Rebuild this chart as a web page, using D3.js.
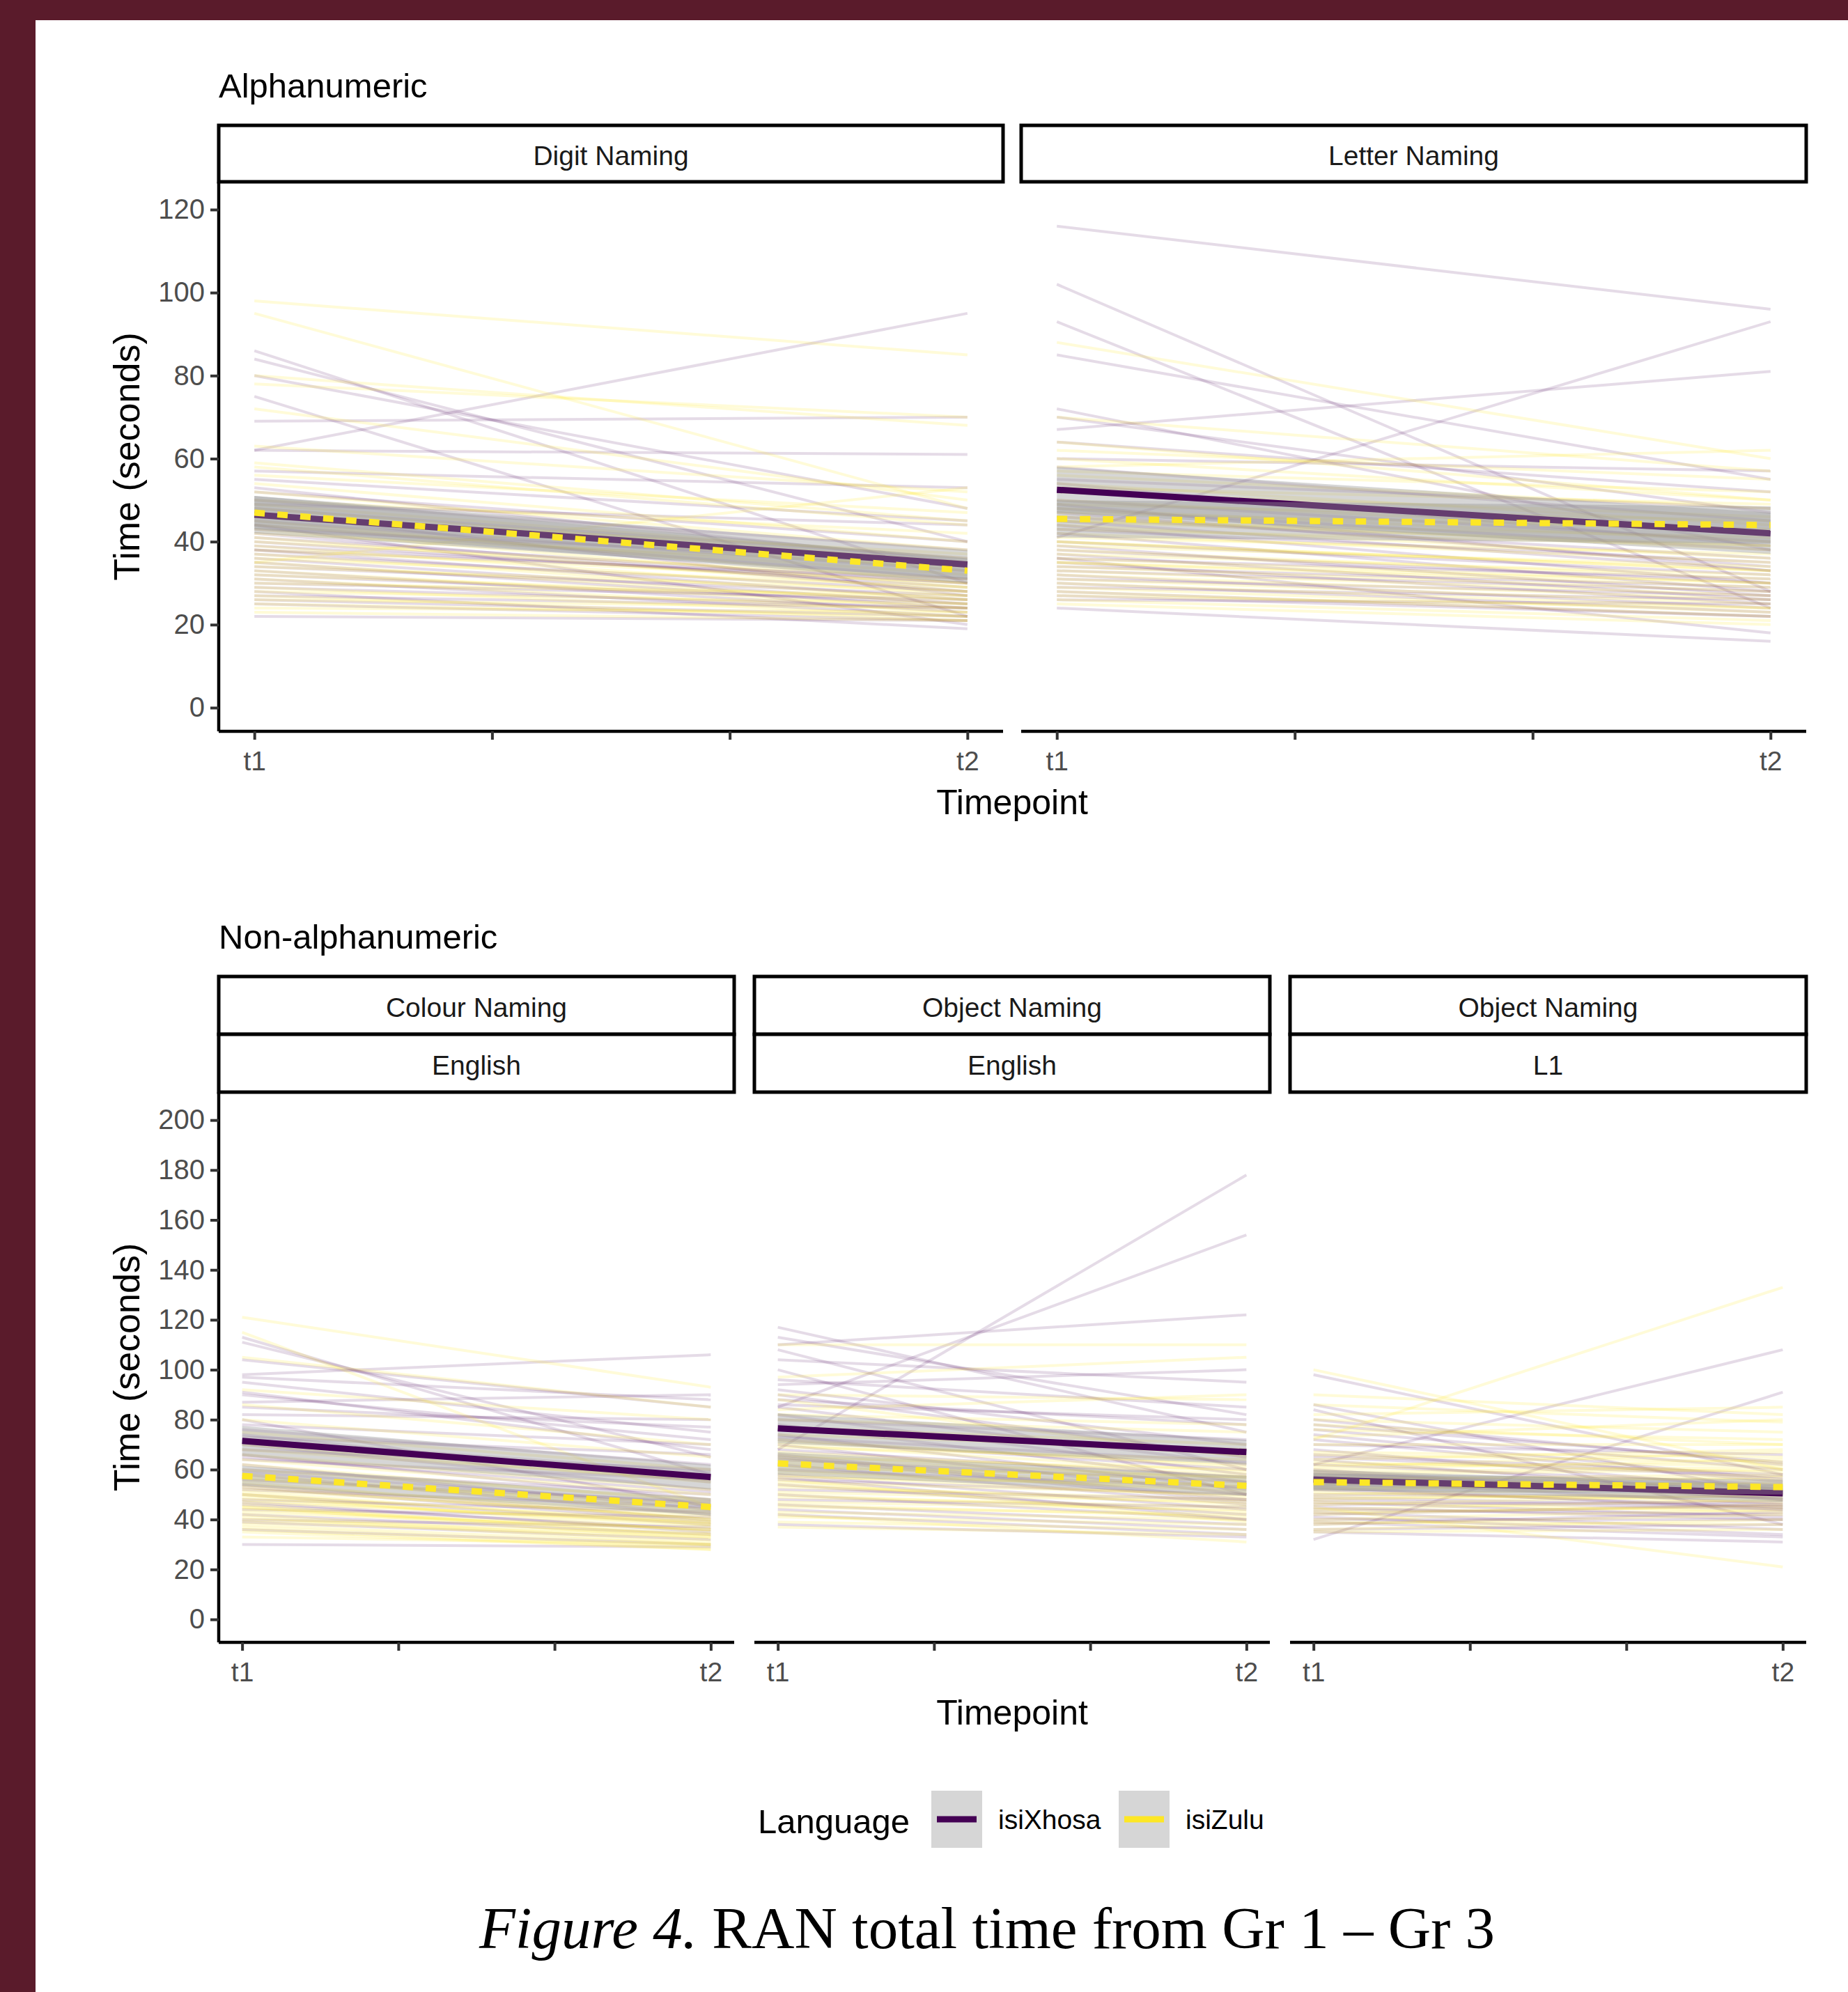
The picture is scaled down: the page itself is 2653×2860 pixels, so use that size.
<!DOCTYPE html>
<html>
<head>
<meta charset="utf-8">
<script src="https://cdn.jsdelivr.net/npm/d3@7"></script>
<style>
  body { margin: 0; background: #fff; }
  text { font-family: "Liberation Sans", Arial, sans-serif; }
</style>
</head>
<body>
<div id="chart"></div>
<script>
// RAN total time, t1 -> t2, by language

// individual children: [t1, t2] seconds
var digitXhosa = [[62,95],[86,30],[84,40],[80,48],[75,22],[69,70],[62,61],[57,53],[55,45],[52,40],[50,38],[48,36],[47,27],[46,34],[45,33],[44,31],[43,35],[42,28],[41,30],[40,29],[39,30],[38,26],[37,28],[36,25],[35,24],[34,27],[33,23],[32,25],[31,22],[30,26],[29,24],[28,19],[27,24],[26,22],[25,21],[22,21],[49,44],[53,35],[44,20],[38,31]];
var digitZulu = [[98,85],[95,48],[80,68],[78,70],[72,50],[63,52],[59,45],[58,44],[56,47],[54,40],[52,38],[50,42],[49,36],[48,35],[47,33],[46,37],[45,30],[44,32],[43,29],[42,34],[41,28],[40,31],[39,27],[38,30],[37,26],[36,29],[35,25],[34,28],[33,24],[32,26],[31,23],[30,27],[29,22],[28,25],[27,21],[26,24],[25,22],[24,23],[23,21],[35,53]];

var letterXhosa = [[116,96],[102,28],[93,24],[85,55],[67,81],[72,38],[41,93],[24,16],[28,22],[33,28],[60,57],[58,45],[55,48],[52,42],[50,40],[48,38],[47,34],[46,36],[45,33],[44,30],[43,35],[42,28],[40,32],[39,27],[38,30],[37,26],[36,31],[35,25],[34,29],[32,24],[31,27],[30,23],[29,26],[27,22],[26,25],[64,52],[70,47],[54,39],[49,33],[36,18]];
var letterZulu = [[88,60],[70,57],[64,50],[58,62],[60,50],[56,48],[54,44],[52,46],[50,42],[49,45],[48,40],[47,43],[46,38],[45,41],[44,36],[43,39],[42,35],[41,37],[40,33],[39,34],[38,31],[37,32],[36,30],[35,29],[34,28],[33,27],[32,26],[31,25],[30,24],[29,23],[28,22],[27,24],[26,21],[25,20],[62,55],[57,52],[53,49],[45,39],[40,33],[35,30]];

var colourXhosa = [[113,58],[111,65],[98,106],[97,88],[95,75],[91,68],[87,90],[82,80],[80,45],[78,70],[76,62],[74,55],[72,59],[70,52],[68,60],[66,48],[64,56],[62,44],[60,50],[58,42],[56,47],[54,40],[52,45],[50,38],[48,43],[46,36],[44,41],[42,34],[40,37],[30,29],[85,77],[73,66],[65,51],[59,46],[53,39],[47,35],[39,32],[36,30],[104,85],[90,72]];
var colourZulu = [[121,93],[115,45],[105,85],[64,50],[55,40],[50,35],[48,38],[46,33],[44,36],[42,31],[40,34],[38,30],[37,29],[60,48],[58,44],[56,46],[54,42],[52,41],[49,37],[47,39],[45,32],[43,36],[41,30],[39,33],[36,28],[66,52],[70,55],[62,47],[57,43],[53,40],[51,38],[35,28],[33,30],[68,56],[75,60],[86,70],[92,80],[80,65],[45,34],[50,39]];

var objEngXhosa = [[68,178],[85,154],[110,122],[117,75],[113,82],[108,60],[104,95],[100,50],[96,85],[92,70],[90,65],[88,78],[85,62],[82,58],[80,72],[78,55],[76,68],[74,52],[72,60],[70,50],[68,57],[66,48],[64,55],[62,46],[60,53],[58,44],[56,50],[54,42],[52,48],[50,40],[48,45],[46,38],[44,36],[42,34],[38,33],[94,100],[86,80],[73,63],[65,47],[57,40]];
var objEngZulu = [[110,110],[97,105],[88,65],[84,90],[80,75],[77,70],[74,68],[71,62],[69,64],[67,58],[65,60],[63,55],[61,57],[59,52],[57,54],[55,50],[53,48],[51,47],[49,45],[47,44],[45,42],[43,40],[41,38],[39,36],[37,34],[90,88],[82,78],[76,66],[72,61],[66,56],[62,53],[58,49],[54,46],[50,43],[46,41],[42,31],[60,51],[70,59],[64,57],[56,39]];

var objL1Xhosa = [[98,58],[86,50],[84,38],[32,91],[62,108],[80,62],[76,60],[72,55],[70,66],[68,52],[66,58],[64,50],[62,54],[60,48],[58,53],[56,46],[54,51],[52,45],[50,49],[48,44],[46,47],[44,42],[42,46],[40,40],[38,43],[36,38],[35,31],[74,56],[78,63],[59,48],[53,44],[47,41],[43,36],[39,33],[55,50],[65,57],[57,52],[49,45],[45,40],[41,34]];
var objL1Zulu = [[72,133],[100,60],[45,21],[90,82],[86,79],[80,75],[76,72],[73,80],[70,70],[67,65],[64,68],[62,62],[60,64],[58,60],[56,58],[54,57],[52,55],[50,53],[48,51],[46,50],[44,48],[42,46],[40,44],[38,42],[36,40],[35,36],[66,63],[61,67],[57,56],[53,52],[49,49],[43,45],[39,38],[78,70],[82,85],[55,54],[47,43],[59,61],[63,59],[51,47]];

// group means [t1, t2] and half width of the ribbon [t1, t2]
var digitMeanXhosa = [46.5, 34.5], digitCiXhosa = [4.5, 3.5];
var digitMeanZulu = [47, 33], digitCiZulu = [4, 3];
var letterMeanXhosa = [52.5, 42], letterCiXhosa = [5.5, 5];
var letterMeanZulu = [45.5, 44], letterCiZulu = [4.5, 4.5];
var colourMeanXhosa = [71.5, 57], colourCiXhosa = [6, 5];
var colourMeanZulu = [57.5, 45], colourCiZulu = [4, 3.5];
var objEngMeanXhosa = [76.5, 67], objEngCiXhosa = [6, 5];
var objEngMeanZulu = [62.5, 53.5], objEngCiZulu = [4.5, 4];
var objL1MeanXhosa = [56, 50.5], objL1CiXhosa = [4, 3.5];
var objL1MeanZulu = [55, 53], objL1CiZulu = [3.5, 3];

var timepoints = [1, 2];
var xTicks = [1, 4 / 3, 5 / 3, 2];
var xTickLabels = ["t1", "", "", "t2"];
var yTicksTop = [0, 20, 40, 60, 80, 100, 120];
var yTicksBottom = [0, 20, 40, 60, 80, 100, 120, 140, 160, 180, 200];
var languages = ["isiXhosa", "isiZulu"];

var colXhosa = "#440154";
var colZulu = "#FDE725";

var svgWidth = 2653;
var svgHeight = 2860;

var svg = d3.select("#chart")
  .append("svg")
  .attr("width", svgWidth)
  .attr("height", svgHeight);

// page frame
svg.append("rect").attr("x", 0).attr("y", 0).attr("width", svgWidth).attr("height", 29).attr("fill", "#5a1b2b");
svg.append("rect").attr("x", 0).attr("y", 0).attr("width", 51).attr("height", svgHeight).attr("fill", "#5a1b2b");

var panels = [
  { strips: ["Digit Naming"], x0: 314, x1: 1440, y0: 261, y1: 1050, stripTop: 180, yDomain: [-5.7, 126.7], yTicks: yTicksTop, first: true,
    xh: digitXhosa, zu: digitZulu, mx: digitMeanXhosa, cx: digitCiXhosa, mz: digitMeanZulu, cz: digitCiZulu },
  { strips: ["Letter Naming"], x0: 1466, x1: 2593, y0: 261, y1: 1050, stripTop: 180, yDomain: [-5.7, 126.7], yTicks: yTicksTop, first: false,
    xh: letterXhosa, zu: letterZulu, mx: letterMeanXhosa, cx: letterCiXhosa, mz: letterMeanZulu, cz: letterCiZulu },
  { strips: ["Colour Naming", "English"], x0: 314, x1: 1054, y0: 1568, y1: 2358, stripTop: 1402, yDomain: [-9.2, 211.2], yTicks: yTicksBottom, first: true,
    xh: colourXhosa, zu: colourZulu, mx: colourMeanXhosa, cx: colourCiXhosa, mz: colourMeanZulu, cz: colourCiZulu },
  { strips: ["Object Naming", "English"], x0: 1083, x1: 1823, y0: 1568, y1: 2358, stripTop: 1402, yDomain: [-9.2, 211.2], yTicks: yTicksBottom, first: false,
    xh: objEngXhosa, zu: objEngZulu, mx: objEngMeanXhosa, cx: objEngCiXhosa, mz: objEngMeanZulu, cz: objEngCiZulu },
  { strips: ["Object Naming", "L1"], x0: 1852, x1: 2593, y0: 1568, y1: 2358, stripTop: 1402, yDomain: [-9.2, 211.2], yTicks: yTicksBottom, first: false,
    xh: objL1Xhosa, zu: objL1Zulu, mx: objL1MeanXhosa, cx: objL1CiXhosa, mz: objL1MeanZulu, cz: objL1CiZulu }
];

panels.forEach(function(p) {
  var g = svg.append("g");
  var x = d3.scaleLinear().domain([0.95, 2.05]).range([p.x0, p.x1]);
  var y = d3.scaleLinear().domain(p.yDomain).range([p.y1, p.y0]);
  var line = d3.line().x(function(d, i) { return x(timepoints[i]); }).y(function(d) { return y(d); });
  var area = d3.area()
    .x(function(d) { return x(d.t); })
    .y0(function(d) { return y(d.m - d.c); })
    .y1(function(d) { return y(d.m + d.c); });

  // children
  g.selectAll(".kidX").data(p.xh).enter().append("path")
    .attr("d", function(d) { return line(d); })
    .attr("fill", "none").attr("stroke", colXhosa).attr("stroke-opacity", 0.14).attr("stroke-width", 4);
  g.selectAll(".kidZ").data(p.zu).enter().append("path")
    .attr("d", function(d) { return line(d); })
    .attr("fill", "none").attr("stroke", colZulu).attr("stroke-opacity", 0.18).attr("stroke-width", 4);

  // smooth + ribbon, isiXhosa then isiZulu
  [[p.mx, p.cx, colXhosa, null], [p.mz, p.cz, colZulu, "15,18"]].forEach(function(s) {
    var band = timepoints.map(function(t, i) { return { t: t, m: s[0][i], c: s[1][i] }; });
    g.append("path").attr("d", area(band)).attr("fill", "#999999").attr("fill-opacity", 0.4);
    var ml = g.append("path").attr("d", line(s[0]))
      .attr("fill", "none").attr("stroke", s[2]).attr("stroke-width", 9);
    if (s[3]) ml.attr("stroke-dasharray", s[3]);
  });

  // strips
  p.strips.forEach(function(label, i) {
    var h = p.strips.length == 1 ? (p.y0 - p.stripTop) : (p.y0 - p.stripTop) / 2;
    var top = p.stripTop + i * h;
    svg.append("rect").attr("x", p.x0).attr("y", top).attr("width", p.x1 - p.x0).attr("height", h)
      .attr("fill", "white").attr("stroke", "black").attr("stroke-width", 5);
    svg.append("text").attr("x", (p.x0 + p.x1) / 2).attr("y", top + h / 2 + 16)
      .attr("text-anchor", "middle").attr("font-size", "39px").attr("fill", "#1a1a1a").text(label);
  });

  // x axis
  var xAxis = d3.axisBottom(x).tickValues(xTicks).tickFormat(function(d, i) { return xTickLabels[i]; })
    .tickSize(12).tickPadding(16).tickSizeOuter(0);
  var gx = svg.append("g").attr("transform", "translate(0," + p.y1 + ")").call(xAxis);
  gx.select(".domain").attr("stroke", "black").attr("stroke-width", 4.5).attr("d", "M" + p.x0 + ",0H" + p.x1);
  gx.selectAll(".tick line").attr("stroke", "#333").attr("stroke-width", 4);
  gx.selectAll(".tick text").attr("font-size", "39px").attr("fill", "#4d4d4d").attr("font-family", "Liberation Sans, Arial, sans-serif");

  // y axis on first panel of a row
  if (p.first) {
    var yAxis = d3.axisLeft(y).tickValues(p.yTicks).tickSize(12).tickPadding(8).tickSizeOuter(0);
    var gy = svg.append("g").attr("transform", "translate(" + p.x0 + ",0)").call(yAxis);
    gy.select(".domain").attr("stroke", "black").attr("stroke-width", 4.5).attr("d", "M0," + p.y0 + "V" + p.y1);
    gy.selectAll(".tick line").attr("stroke", "#333").attr("stroke-width", 4);
    gy.selectAll(".tick text").attr("font-size", "40px").attr("fill", "#4d4d4d").attr("font-family", "Liberation Sans, Arial, sans-serif");

    svg.append("text")
      .attr("transform", "translate(200," + ((p.y0 + p.y1) / 2) + ") rotate(-90)")
      .attr("text-anchor", "middle").attr("font-size", "52px").attr("fill", "black")
      .text("Time (seconds)");
  }
});

// row titles and x titles
svg.append("text").attr("x", 314).attr("y", 140).attr("font-size", "49px").text("Alphanumeric");
svg.append("text").attr("x", 314).attr("y", 1362).attr("font-size", "49px").text("Non-alphanumeric");
svg.append("text").attr("x", 1453).attr("y", 1169).attr("text-anchor", "middle").attr("font-size", "50px").text("Timepoint");
svg.append("text").attr("x", 1453).attr("y", 2476).attr("text-anchor", "middle").attr("font-size", "50px").text("Timepoint");

// legend
var legend = svg.append("g");
legend.append("text").attr("x", 1088).attr("y", 2632).attr("font-size", "49px").text("Language");
var keyX = [1337, 1606];
languages.forEach(function(lang, i) {
  legend.append("rect").attr("x", keyX[i]).attr("y", 2571).attr("width", 73).attr("height", 82).attr("fill", "#d6d6d6");
  legend.append("line").attr("x1", keyX[i] + 8).attr("x2", keyX[i] + 65).attr("y1", 2612).attr("y2", 2612)
    .attr("stroke", i == 0 ? colXhosa : colZulu).attr("stroke-width", 9);
  legend.append("text").attr("x", keyX[i] + 96).attr("y", 2626).attr("font-size", "39px").text(lang);
});

// caption
var cap = svg.append("text").attr("x", 1417).attr("y", 2797).attr("text-anchor", "middle")
  .style("font-family", "'Liberation Serif', 'Times New Roman', serif").attr("font-size", "85px");
cap.append("tspan").style("font-family", "'Liberation Serif', 'Times New Roman', serif").attr("font-style", "italic").text("Figure 4.");
cap.append("tspan").style("font-family", "'Liberation Serif', 'Times New Roman', serif").text(" RAN total time from Gr 1 \u2013 Gr 3");
</script>
</body>
</html>
